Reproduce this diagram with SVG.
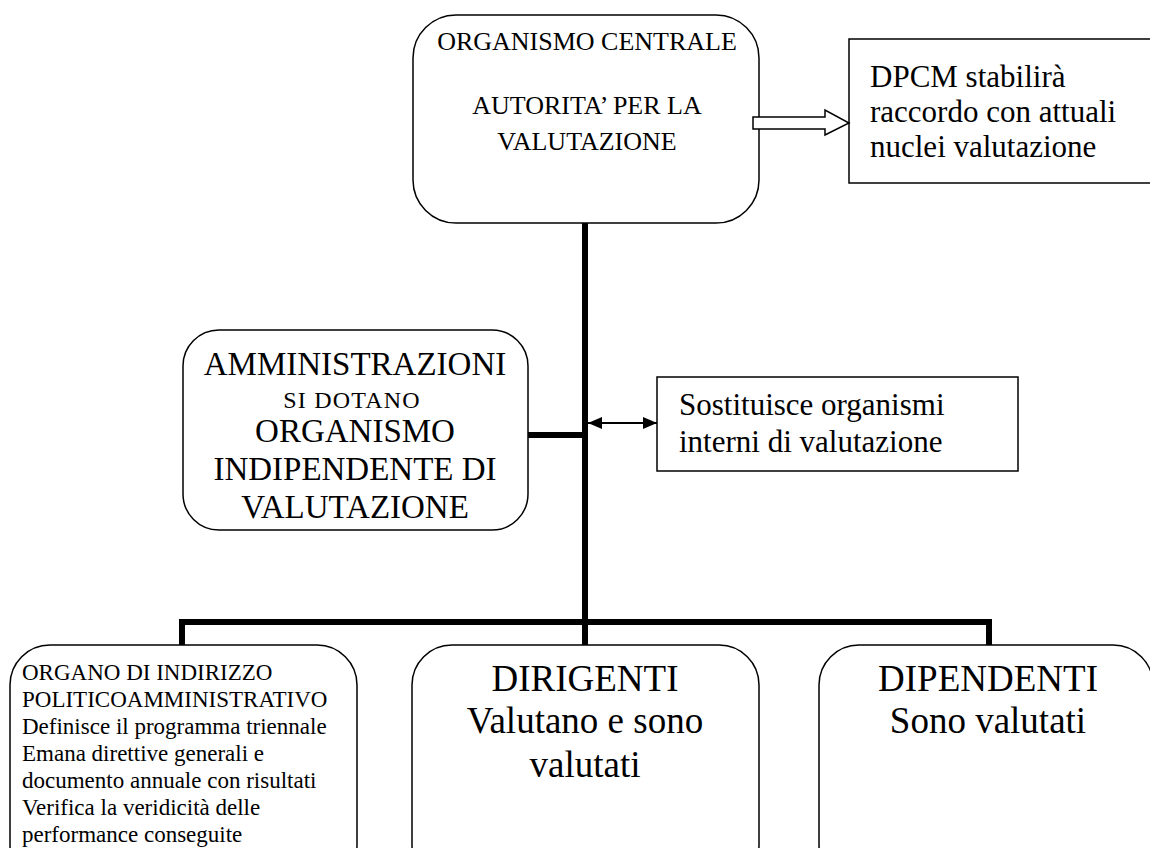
<svg xmlns="http://www.w3.org/2000/svg" width="1150" height="848" viewBox="0 0 1150 848">
<defs>
<style>
.box{fill:#fff;stroke:#000;stroke-width:1.5}
.t{font-family:"Liberation Serif","Times New Roman",serif;fill:#000}
.c{text-anchor:middle}
.thick{stroke:#000;stroke-width:6;fill:none}
</style>
<marker id="ah" viewBox="0 0 14 12" refX="14" refY="6" markerWidth="14" markerHeight="12" markerUnits="userSpaceOnUse" orient="auto-start-reverse">
<path d="M0,0 L14,6 L0,12 z" fill="#000"/>
</marker>
</defs>
<rect width="1150" height="848" fill="#fff"/>
<g id="organismo-centrale">
<rect class="box" x="413" y="15" width="346" height="208" rx="43"/>
<text class="t c" x="587" y="50" font-size="26">ORGANISMO CENTRALE</text>
<text class="t c" x="587" y="114" font-size="26">AUTORITA’ PER LA</text>
<text class="t c" x="587" y="150" font-size="26">VALUTAZIONE</text>
</g>
<g id="dpcm">
<rect class="box" x="849" y="39" width="320" height="144"/>
<text class="t" x="870" y="87" font-size="31">DPCM stabilirà</text>
<text class="t" x="870" y="122" font-size="31">raccordo con attuali</text>
<text class="t" x="870" y="157" font-size="31">nuclei valutazione</text>
</g>
<g id="amministrazioni">
<rect class="box" x="183" y="330" width="345" height="200" rx="36"/>
<text class="t c" x="355" y="375" font-size="33">AMMINISTRAZIONI</text>
<text class="t c" x="352" y="408" font-size="24" letter-spacing="1.2">SI DOTANO</text>
<text class="t c" x="355" y="442" font-size="33">ORGANISMO</text>
<text class="t c" x="355" y="480" font-size="33">INDIPENDENTE DI</text>
<text class="t c" x="355" y="518" font-size="33">VALUTAZIONE</text>
</g>
<g id="sostituisce">
<rect class="box" x="657" y="377" width="361" height="94"/>
<text class="t" x="679" y="415" font-size="31">Sostituisce organismi</text>
<text class="t" x="679" y="452" font-size="31">interni di valutazione</text>
</g>
<g id="organo">
<rect class="box" x="10" y="645" width="347" height="240" rx="40"/>
<text class="t" x="22" y="680" font-size="23">ORGANO DI INDIRIZZO</text>
<text class="t" x="22" y="707" font-size="23">POLITICOAMMINISTRATIVO</text>
<text class="t" x="22" y="734" font-size="23">Definisce il programma triennale</text>
<text class="t" x="22" y="761" font-size="23">Emana direttive generali e</text>
<text class="t" x="22" y="788" font-size="23">documento annuale con risultati</text>
<text class="t" x="22" y="815" font-size="23">Verifica la veridicità delle</text>
<text class="t" x="22" y="842" font-size="23">performance conseguite</text>
</g>
<g id="dirigenti">
<rect class="box" x="412" y="645" width="347" height="240" rx="40"/>
<text class="t c" x="585" y="691" font-size="37">DIRIGENTI</text>
<text class="t c" x="585" y="733" font-size="37">Valutano e sono</text>
<text class="t c" x="585" y="777" font-size="37">valutati</text>
</g>
<g id="dipendenti">
<rect class="box" x="819" y="645" width="334" height="240" rx="40"/>
<text class="t c" x="988" y="691" font-size="37">DIPENDENTI</text>
<text class="t c" x="988" y="733" font-size="37">Sono valutati</text>
</g>
<g id="connectors">
<path class="thick" d="M585,223 V645"/>
<path class="thick" d="M528,435 H585"/>
<path class="thick" d="M182,645 V622 H989 V645"/>
<line x1="588" y1="423" x2="657" y2="423" stroke="#000" stroke-width="2" marker-start="url(#ah)" marker-end="url(#ah)"/>
<polygon points="753,117 825,117 825,110 849,123 825,135 825,129 753,129" fill="#fff" stroke="#000" stroke-width="1.5"/>
</g>
</svg>
